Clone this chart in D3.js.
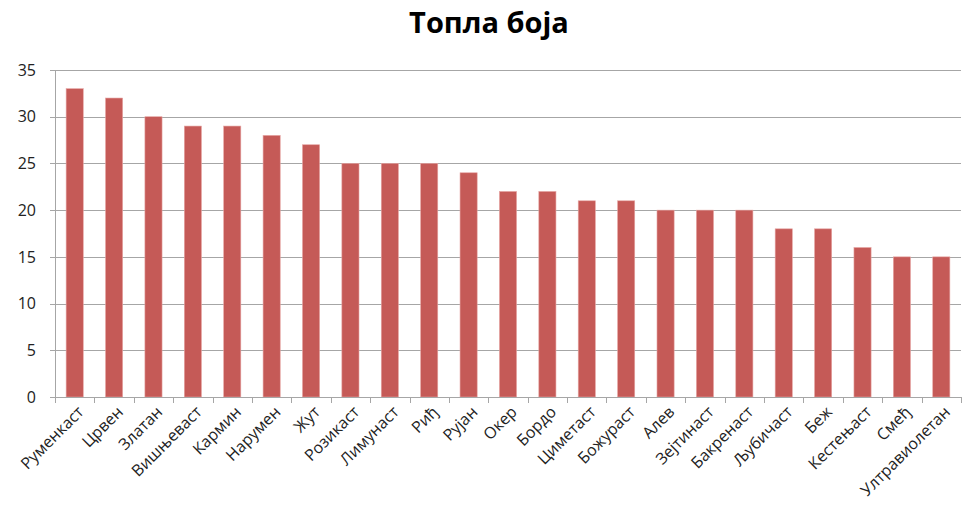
<!DOCTYPE html>
<html>
<head>
<meta charset="utf-8">
<script src="https://cdn.jsdelivr.net/npm/d3@7"></script>
<style>
  body { margin: 0; background: #fff; }
  svg text { font-family: "Open Sans", "Liberation Sans", sans-serif; }
</style>
</head>
<body>
<div id="chart"></div>
<script>
var title = "Топла боја";
var categories = ["Руменкаст", "Црвен", "Златан", "Вишњеваст", "Кармин", "Нарумен", "Жут",
    "Розикаст", "Лимунаст", "Риђ", "Рујан", "Окер", "Бордо", "Циметаст", "Божураст", "Алев",
    "Зејтинаст", "Бакренаст", "Љубичаст", "Беж", "Кестењаст", "Смеђ", "Ултравиолетан"];
var values = [33, 32, 30, 29, 29, 28, 27, 25, 25, 25, 24, 22, 22, 21, 21, 20, 20, 20, 18, 18, 16, 15, 15];
var yTicks = [0, 5, 10, 15, 20, 25, 30, 35];

var W = 962, H = 519;
var margin = { top: 70, right: 1, bottom: 122, left: 55 },
    width = W - margin.left - margin.right,
    height = H - margin.top - margin.bottom;

var svg = d3.select("#chart")
    .append("svg")
    .attr("width", W)
    .attr("height", H);

// title
svg.append("text")
    .attr("x", 489)
    .attr("y", 33)
    .attr("text-anchor", "middle")
    .style("font-size", "29px")
    .style("font-weight", "bold")
    .text(title);

var g = svg.append("g")
    .attr("transform", "translate(" + margin.left + "," + margin.top + ")");

var x = d3.scaleBand()
    .domain(categories)
    .range([0, width])
    .paddingInner(0.565)
    .paddingOuter(0.565 / 2);

var y = d3.scaleLinear()
    .domain([0, 35])
    .range([height, 0]);

// gridlines
g.selectAll(".grid")
    .data(yTicks)
    .enter()
    .append("line")
    .attr("x1", -5)
    .attr("x2", width)
    .attr("y1", function (d) { return Math.round(y(d)) + 0.5; })
    .attr("y2", function (d) { return Math.round(y(d)) + 0.5; })
    .style("stroke", "#a6a6a6")
    .style("stroke-width", 1);

// y axis labels
g.selectAll(".ylab")
    .data(yTicks)
    .enter()
    .append("text")
    .attr("x", -19)
    .attr("y", function (d) { return y(d); })
    .attr("dy", "0.36em")
    .attr("text-anchor", "end")
    .style("font-size", "16px")
    .style("fill", "#222")
    .text(function (d) { return d; });

// y axis line
g.append("line")
    .attr("x1", 0.5).attr("x2", 0.5)
    .attr("y1", 0).attr("y2", height)
    .style("stroke", "#a6a6a6");

// bars
g.selectAll(".bar")
    .data(values)
    .enter()
    .append("rect")
    .attr("x", function (d, i) { return x(categories[i]); })
    .attr("y", function (d) { return y(d); })
    .attr("width", x.bandwidth())
    .attr("height", function (d) { return height - y(d); })
    .style("fill", "#c55a57")
    .style("stroke", "#e6a5a3")
    .style("stroke-width", 0.6);

// x axis ticks at category boundaries
var step = x.step();
var bounds = d3.range(categories.length + 1);
g.selectAll(".xtick")
    .data(bounds)
    .enter()
    .append("line")
    .attr("x1", function (d) { return Math.round(d * step) + 0.5; })
    .attr("x2", function (d) { return Math.round(d * step) + 0.5; })
    .attr("y1", height)
    .attr("y2", height + 6)
    .style("stroke", "#a6a6a6");

g.append("line")
    .attr("x1", 0).attr("x2", width)
    .attr("y1", Math.round(height) + 0.5).attr("y2", Math.round(height) + 0.5)
    .style("stroke", "#a6a6a6");

// x labels rotated
g.selectAll(".xlab")
    .data(categories)
    .enter()
    .append("text")
    .attr("transform", function (d) {
        var cx = x(d) + x.bandwidth() / 2 + 6;
        return "translate(" + cx + "," + (height + 12) + ") rotate(-45)";
    })
    .attr("text-anchor", "end")
    .attr("dy", "0.35em")
    .style("font-size", "16px")
    .style("fill", "#222")
    .text(function (d) { return d; });
</script>
</body>
</html>
